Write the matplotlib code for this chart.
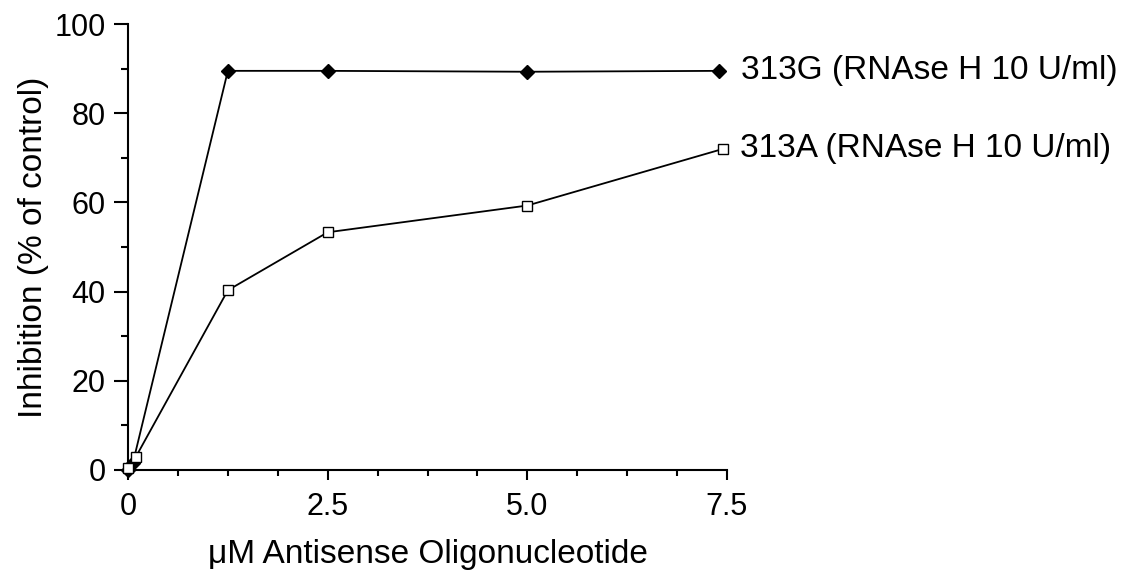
import matplotlib
matplotlib.use("Agg")
import matplotlib.pyplot as plt
from matplotlib.ticker import MultipleLocator

plt.rcParams['font.family'] = ['Liberation Sans', 'DejaVu Sans']

# Data
x_313g = [0.0, 0.06, 1.25, 2.5, 5.0, 7.4]
y_313g = [0.0, 1.5, 89.5, 89.5, 89.3, 89.5]
x_313a = [0.0, 0.1, 1.25, 2.5, 5.0, 7.45]
y_313a = [0.5, 3.0, 40.3, 53.3, 59.3, 72.0]
label_313g = "313G (RNAse H 10 U/ml)"
label_313a = "313A (RNAse H 10 U/ml)"
xticks = [0, 2.5, 5.0, 7.5]
xticklabels = ["0", "2.5", "5.0", "7.5"]
yticks = [0, 20, 40, 60, 80, 100]

fig = plt.figure(figsize=(11.28, 5.86), dpi=100)
ax = fig.add_axes([0.1135, 0.198, 0.531, 0.761])

ax.plot(x_313g, y_313g, color='black', lw=1.3, marker='D', markersize=7.5,
        markerfacecolor='black', markeredgecolor='black', clip_on=False, zorder=3)
ax.plot(x_313a, y_313a, color='black', lw=1.3, marker='s', markersize=7.5,
        markerfacecolor='white', markeredgecolor='black', markeredgewidth=1.0,
        clip_on=False, zorder=4)

ax.set_xlim(0, 7.5)
ax.set_ylim(0, 100)
ax.set_xticks(xticks)
ax.set_xticklabels(xticklabels)
ax.xaxis.set_minor_locator(MultipleLocator(0.625))
ax.set_yticks(yticks)
ax.yaxis.set_minor_locator(MultipleLocator(10))

for s in ['top', 'right']:
    ax.spines[s].set_visible(False)
for s in ['left', 'bottom']:
    ax.spines[s].set_linewidth(1.5)

ax.tick_params(axis='x', which='major', direction='out', length=7, width=1.5, labelsize=22, pad=9)
ax.tick_params(axis='x', which='minor', direction='out', length=4, width=1.5)
ax.tick_params(axis='y', which='major', direction='out', length=10, width=1.5, labelsize=22, pad=6)
ax.tick_params(axis='y', which='minor', direction='out', length=5, width=1.5)

ax.set_xlabel("\u03bcM Antisense Oligonucleotide", fontsize=24, labelpad=12)
ax.set_ylabel("Inhibition (% of control)", fontsize=24, labelpad=4)

ax.annotate(label_313g, xy=(x_313g[-1], y_313g[-1]), xytext=(16, 0),
            textcoords='offset points', fontsize=24, va='center', ha='left',
            annotation_clip=False)
ax.annotate(label_313a, xy=(x_313a[-1], y_313a[-1]), xytext=(12, 0),
            textcoords='offset points', fontsize=24, va='center', ha='left',
            annotation_clip=False)

fig.savefig("out.png", dpi=100)
